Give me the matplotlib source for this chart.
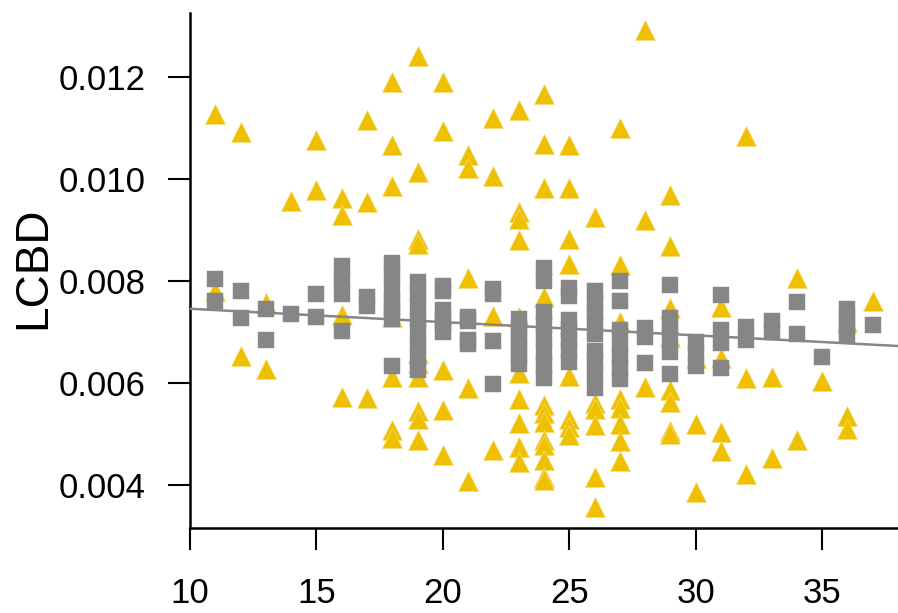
import numpy as np
import matplotlib
matplotlib.use('Agg')
import matplotlib.pyplot as plt

plt.rcParams['font.family'] = ['Liberation Sans', 'DejaVu Sans']

# yellow triangles (x, LCBD)
tri_x = [11, 11, 12, 12, 13, 13, 14, 15, 15,
         16, 16, 16, 16, 17, 17, 17,
         18, 18, 18, 18, 18, 18, 18,
         19, 19, 19, 19, 19, 19, 19, 19, 19, 19,
         20, 20, 20, 20, 20,
         21, 21, 21, 21, 21,
         22, 22, 22, 22,
         23, 23, 23, 23, 23, 23, 23, 23, 23, 23,
         24, 24, 24, 24, 24, 24, 24, 24, 24, 24, 24, 24,
         25, 25, 25, 25, 25, 25, 25, 25,
         26, 26, 26, 26, 26, 26,
         27, 27, 27, 27, 27, 27, 27, 27,
         28, 28, 28,
         29, 29, 29, 29, 29, 29, 29, 29,
         30, 30, 30,
         31, 31, 31, 31,
         32, 32, 32,
         33, 33,
         34, 34,
         35,
         36, 36, 36,
         37]
tri_y = [0.01127, 0.00780, 0.01093, 0.00654, 0.00757, 0.00628, 0.00958, 0.01077, 0.00979,
         0.00964, 0.00929, 0.00734, 0.00573, 0.01116, 0.00955, 0.00571,
         0.01191, 0.01067, 0.00987, 0.00730, 0.00612, 0.00508, 0.00492,
         0.01241, 0.01015, 0.00882, 0.00872, 0.00660, 0.00640, 0.00612, 0.00545, 0.00530, 0.00488,
         0.01190, 0.01095, 0.00626, 0.00547, 0.00459,
         0.01048, 0.01022, 0.00806, 0.00591, 0.00408,
         0.01120, 0.01006, 0.00731, 0.00469,
         0.01136, 0.00935, 0.00922, 0.00880, 0.00730, 0.00620, 0.00569, 0.00522, 0.00474, 0.00445,
         0.01168, 0.01069, 0.00983, 0.00770, 0.00557, 0.00542, 0.00524, 0.00489, 0.00479, 0.00450, 0.00417, 0.00411,
         0.01067, 0.00983, 0.00883, 0.00833, 0.00615, 0.00530, 0.00514, 0.00498,
         0.00926, 0.00562, 0.00550, 0.00518, 0.00416, 0.00357,
         0.01100, 0.00832, 0.00720, 0.00569, 0.00552, 0.00520, 0.00486, 0.00447,
         0.01292, 0.00920, 0.00593,
         0.00969, 0.00869, 0.00748, 0.00690, 0.00587, 0.00564, 0.00507, 0.00500,
         0.00650, 0.00520, 0.00386,
         0.00750, 0.00650, 0.00505, 0.00467,
         0.01085, 0.00610, 0.00421,
         0.00612, 0.00454,
         0.00807, 0.00488,
         0.00605,
         0.00720, 0.00536, 0.00510,
         0.00762]

# grey squares (x, LCBD)
sq_x = [11, 11, 12, 12, 13, 13, 14, 15, 15,
        16, 16, 16, 16, 17, 17,
        18, 18, 18, 18, 18, 18, 18,
        19, 19, 19, 19, 19, 19, 19, 19,
        20, 20, 20, 20, 20, 20,
        21, 21, 21, 21,
        22, 22, 22, 22,
        23, 23, 23, 23, 23, 23,
        24, 24, 24, 24, 24, 24, 24, 24,
        25, 25, 25, 25, 25, 25, 25,
        26, 26, 26, 26, 26, 26, 26, 26, 26,
        27, 27, 27, 27, 27, 27, 27,
        28, 28, 28,
        29, 29, 29, 29, 29, 29,
        30, 30, 30,
        31, 31, 31, 31,
        32, 32, 33, 33, 34, 34, 35,
        36, 36, 36, 36,
        37]
sq_y = [0.00805, 0.00762, 0.00781, 0.00728, 0.00746, 0.00685, 0.00736, 0.00775, 0.00730,
        0.00830, 0.00802, 0.00775, 0.00702, 0.00769, 0.00751,
        0.00836, 0.00812, 0.00785, 0.00760, 0.00745, 0.00726, 0.00634,
        0.00799, 0.00775, 0.00750, 0.00725, 0.00700, 0.00675, 0.00650, 0.00626,
        0.00791, 0.00780, 0.00744, 0.00728, 0.00716, 0.00700,
        0.00730, 0.00722, 0.00684, 0.00676,
        0.00785, 0.00775, 0.00683, 0.00598,
        0.00726, 0.00708, 0.00690, 0.00672, 0.00655, 0.00638,
        0.00826, 0.00800, 0.00740, 0.00714, 0.00688, 0.00662, 0.00636, 0.00610,
        0.00787, 0.00771, 0.00724, 0.00704, 0.00684, 0.00663, 0.00642,
        0.00780, 0.00760, 0.00740, 0.00718, 0.00696, 0.00663, 0.00641, 0.00618, 0.00591,
        0.00800, 0.00761, 0.00704, 0.00673, 0.00651, 0.00630, 0.00608,
        0.00708, 0.00690, 0.00639,
        0.00793, 0.00728, 0.00710, 0.00690, 0.00661, 0.00618,
        0.00681, 0.00660, 0.00634,
        0.00772, 0.00704, 0.00679, 0.00630,
        0.00710, 0.00685, 0.00722, 0.00701, 0.00760, 0.00696, 0.00651,
        0.00745, 0.00727, 0.00710, 0.00694,
        0.00715]

# fitted trend line
fit_intercept = 0.007721
fit_slope = -0.0000261

x_ticks = [10, 15, 20, 25, 30, 35]
y_ticks = [0.004, 0.006, 0.008, 0.010, 0.012]

fig = plt.figure(figsize=(8.98, 6.13), dpi=100)
ax = fig.add_axes([190/898, 85/613, 708/898, 515/613])

ax.plot(tri_x, tri_y, linestyle='none', marker='^', ms=14, color='#EFC000',
        mec='#f5dd80', mew=0.5, zorder=2)
line_x = np.array([10, 38])
ax.plot(line_x, fit_intercept + fit_slope * line_x, color='#868686', lw=1.8, zorder=3)
ax.plot(sq_x, sq_y, linestyle='none', marker='s', ms=11.5, color='#868686',
        mec='#868686', mew=0.3, zorder=4)

ax.set_xlim(10, 38)
ax.set_ylim(0.00316, 0.01326)
ax.set_xticks(x_ticks)
ax.set_yticks(y_ticks)
ax.set_yticklabels(['%.3f' % v for v in y_ticks])

for s in ['top', 'right']:
    ax.spines[s].set_visible(False)
for s in ['left', 'bottom']:
    ax.spines[s].set_linewidth(1.8)

ax.tick_params(axis='both', length=16, width=1.5, labelsize=25)
ax.tick_params(axis='x', pad=19)
ax.tick_params(axis='y', pad=16)

fig.text(33/898, 1 - 268/613, 'LCBD', rotation=90, ha='center', va='center', fontsize=33)

fig.savefig('out.png', dpi=100)
